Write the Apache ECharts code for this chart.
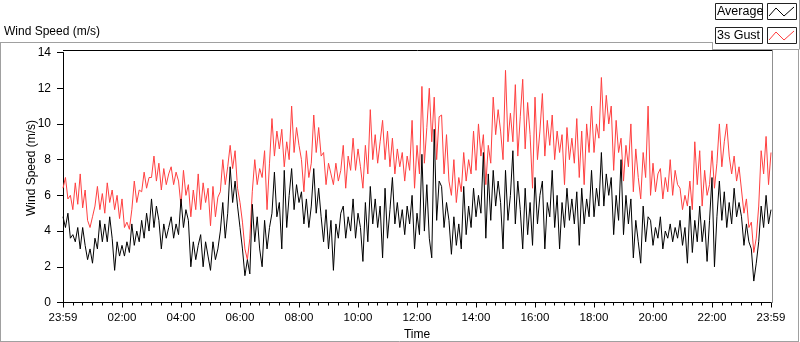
<!DOCTYPE html>
<html>
<head>
<meta charset="utf-8">
<script src="https://cdn.jsdelivr.net/npm/echarts@6/dist/echarts.min.js"></script>
<style>
  html, body { margin: 0; padding: 0; background: #fff; }
  #chart { width: 800px; height: 342px; }
</style>
</head>
<body>
<div id="chart"></div>
<script>
// one reading every 5 minutes, starting at 23:59
const stepMinutes = 5
const timeLabels = ['23:59', '02:00', '04:00', '06:00', '08:00', '10:00', '12:00',
  '14:00', '16:00', '18:00', '20:00', '22:00', '23:59']

// 3s gust (m/s)
const gust = [
  6.4, 7.0, 5.8, 6.0, 5.2, 6.7, 5.5, 7.2, 5.3, 6.3,
  4.6, 4.2, 4.8, 5.4, 6.5, 5.2, 6.1, 5.0, 6.7, 5.6,
  6.3, 5.2, 6.0, 4.7, 5.8, 4.2, 4.5, 4.1, 5.2, 6.8,
  5.6, 6.3, 6.2, 7.3, 6.4, 7.0, 7.0, 8.2, 6.8, 7.8,
  6.3, 7.5, 6.6, 7.2, 7.6, 6.6, 7.3, 6.8, 5.4, 7.4,
  6.0, 6.6, 4.8, 6.3, 5.2, 7.2, 5.2, 6.7, 5.6, 6.4,
  4.3, 6.5, 4.8, 5.9, 6.2, 8.0, 6.6, 7.6, 8.8, 7.5,
  8.5, 6.4, 5.6, 4.5, 3.0, 2.4, 3.6, 6.2, 8.0, 6.6,
  7.5, 7.0, 8.5, 5.2, 7.8, 10.3, 8.2, 9.6, 8.6, 9.7,
  7.6, 9.0, 8.0, 11.0, 8.4, 9.8, 8.8, 8.0, 6.2, 8.5,
  7.0, 7.8, 10.5, 8.4, 9.8, 8.2, 8.4, 6.6, 7.8, 7.2,
  6.6, 7.8, 6.8, 7.4, 8.8, 6.4, 8.2, 7.4, 9.2, 7.4,
  8.6, 7.6, 6.4, 8.8, 7.2, 10.8, 8.0, 9.4, 7.8, 9.0,
  10.2, 8.0, 9.6, 7.6, 9.2, 7.2, 8.6, 7.6, 8.4, 6.8,
  8.2, 7.4, 10.2, 6.4, 8.8, 7.2, 12.1, 7.8, 9.8, 12.0,
  9.0, 11.5, 8.0, 10.4, 10.5, 7.2, 9.4, 6.8, 6.0, 8.0,
  5.6, 7.0, 6.2, 8.4, 6.8, 8.0, 7.2, 9.6, 7.4, 10.0,
  8.2, 9.4, 6.6, 8.8, 7.8, 11.5, 9.4, 10.8, 9.6, 8.0,
  13.0, 9.0, 10.6, 9.0, 12.2, 8.2, 10.4, 12.5, 8.6, 11.2,
  9.4, 6.4, 11.5, 8.0, 9.6, 11.7, 8.2, 10.2, 8.8, 10.5,
  8.0, 9.6, 8.4, 9.4, 6.6, 9.8, 8.0, 9.2, 7.8, 10.3,
  7.0, 9.6, 6.6, 10.0, 8.4, 11.0, 8.4, 10.0, 9.2, 12.6,
  9.6, 11.6, 10.0, 11.0, 7.4, 10.2, 8.4, 9.2, 6.8, 8.8,
  7.6, 10.0, 6.2, 8.6, 7.0, 5.8, 8.4, 7.0, 11.0, 6.0,
  7.8, 6.2, 7.2, 7.5, 5.8, 7.0, 6.2, 8.0, 6.0, 7.4,
  6.6, 6.4, 5.2, 6.0, 5.4, 6.8, 5.2, 9.0, 6.6, 8.5,
  5.4, 7.4, 6.0, 6.6, 8.5, 6.4, 7.8, 10.0, 7.6, 9.0,
  10.0, 8.2, 7.2, 8.2, 6.8, 7.6, 6.3, 5.0, 5.8, 4.2,
  4.5, 2.8, 3.6, 5.4, 8.5, 7.2, 9.3, 6.6, 8.4
]

// 1-minute average (m/s)
const average = [
  4.8, 4.2, 5.0, 3.6, 3.8, 3.4, 4.2, 3.0, 4.2, 3.2,
  2.4, 3.0, 2.2, 3.6, 3.0, 4.6, 3.4, 4.4, 3.4, 4.8,
  3.6, 1.8, 3.4, 2.6, 3.2, 2.6, 3.4, 2.8, 4.4, 3.2,
  4.0, 3.4, 4.6, 3.6, 5.0, 4.0, 5.8, 4.2, 5.4, 4.6,
  3.0, 4.4, 3.6, 4.2, 4.8, 3.6, 4.4, 3.8, 5.8, 4.2,
  5.2, 4.6, 2.0, 3.4, 2.4, 3.2, 3.8, 2.0, 3.4, 2.6,
  1.8, 3.4, 2.4, 3.0, 4.0, 5.6, 3.6, 5.0, 7.6, 5.6,
  6.8, 5.4, 4.2, 3.0, 1.5, 2.4, 1.6, 5.5, 3.4, 4.8,
  3.0, 2.0, 4.6, 3.0, 4.2, 5.0, 7.3, 4.8, 5.6, 3.0,
  7.4, 4.2, 6.0, 7.5, 5.2, 6.6, 5.6, 6.2, 4.4, 5.8,
  4.2, 5.4, 7.5, 5.0, 6.4, 4.8, 3.4, 5.2, 3.0, 4.6,
  1.8, 4.4, 3.6, 5.0, 5.4, 3.6, 4.8, 4.0, 5.8, 3.6,
  5.0, 4.2, 2.3, 5.6, 3.4, 6.5, 4.4, 5.8, 4.2, 5.4,
  2.5, 6.4, 3.6, 5.2, 7.0, 4.4, 5.6, 4.2, 5.2, 3.8,
  5.4, 4.4, 6.0, 3.0, 5.0, 3.8, 8.3, 4.0, 6.6, 3.6,
  2.5, 9.7, 4.6, 6.8, 6.5, 4.2, 5.6, 4.6, 2.7, 4.8,
  3.2, 4.4, 3.0, 6.5, 3.8, 5.4, 4.2, 6.4, 4.8, 6.0,
  5.0, 8.4, 3.6, 7.2, 4.6, 7.4, 5.4, 6.8, 5.6, 3.0,
  7.4, 4.6, 6.0, 8.5, 4.4, 6.8, 5.2, 3.0, 6.4, 3.8,
  5.6, 3.2, 7.0, 4.4, 6.0, 6.8, 3.0, 5.6, 4.8, 7.4,
  4.2, 6.0, 3.0, 5.6, 4.2, 6.4, 4.6, 5.8, 4.4, 6.2,
  3.2, 6.4, 4.4, 5.8, 4.8, 7.4, 4.8, 6.4, 5.4, 8.4,
  5.4, 7.2, 6.0, 7.0, 3.8, 6.0, 4.6, 8.0, 3.8, 6.0,
  4.4, 5.8, 2.5, 4.6, 3.4, 2.2, 5.4, 3.4, 4.8, 4.6,
  3.2, 4.2, 3.6, 4.8, 3.0, 4.0, 3.6, 4.4, 3.4, 4.2,
  3.6, 4.6, 3.2, 4.2, 2.2, 5.4, 2.8, 4.6, 3.4, 5.4,
  3.4, 4.6, 2.3, 4.6, 7.0, 2.0, 4.8, 6.8, 4.6, 6.2,
  4.2, 5.6, 4.4, 6.4, 4.8, 5.6, 4.8, 3.2, 4.4, 3.4,
  3.0, 1.2, 2.2, 3.4, 5.4, 4.2, 6.0, 4.4, 5.2
]

const FONT = '"Liberation Sans", Arial, sans-serif'
const FRAME_GRAY = '#a0a0a0'

function toPoints(values) {
  return values.map((v, i) => [i * stepMinutes, v])
}

function hline(x1, x2, y, color) {
  return { type: 'line', silent: true, z: 50,
    shape: { x1, y1: y, x2, y2: y }, style: { stroke: color, lineWidth: 1 } }
}
function vline(x, y1, y2, color) {
  return { type: 'line', silent: true, z: 50,
    shape: { x1: x, y1, x2: x, y2 }, style: { stroke: color, lineWidth: 1 } }
}

function legendItem(y, label, color) {
  return [
    { type: 'rect', silent: true, z: 50, shape: { x: 715.5, y: y + 0.5, width: 47, height: 16 },
      style: { fill: '#fff', stroke: '#222', lineWidth: 1 } },
    { type: 'text', silent: true, z: 51, x: 717, y: y + 9,
      style: { text: label, fill: '#000', font: '12.5px ' + FONT, verticalAlign: 'middle' } },
    { type: 'rect', silent: true, z: 50, shape: { x: 767.5, y: y + 0.5, width: 29, height: 16 },
      style: { fill: '#fff', stroke: '#222', lineWidth: 1 } },
    { type: 'polyline', silent: true, z: 51,
      shape: { points: [[769, y + 13], [776, y + 5], [784, y + 13], [794, y + 4]] },
      style: { stroke: color, lineWidth: 1, fill: null } }
  ]
}

const chart = echarts.init(document.getElementById('chart'))

chart.setOption({
  backgroundColor: '#fff',
  animation: false,
  textStyle: { fontFamily: FONT },
  grid: { left: 63, right: 29, top: 52.5, bottom: 39.5, outerBoundsMode: 'none' },
  xAxis: {
    type: 'value',
    min: 0,
    max: 1440,
    interval: 120,
    name: 'Time',
    nameLocation: 'middle',
    nameGap: 26,
    nameTextStyle: { color: '#000', fontSize: 12, fontFamily: FONT },
    axisLine: { lineStyle: { color: '#000', width: 1 } },
    axisTick: { length: 5, lineStyle: { color: '#000' } },
    minorTick: { show: true, splitNumber: 6, length: 3, lineStyle: { color: '#000' } },
    axisLabel: {
      color: '#000', fontSize: 11.5, fontFamily: FONT, margin: 9,
      formatter: v => timeLabels[Math.round(v / 120)]
    },
    splitLine: { show: false }
  },
  yAxis: {
    type: 'value',
    min: 0,
    max: 14,
    interval: 2,
    axisLine: { show: true, lineStyle: { color: '#000', width: 1 } },
    axisTick: { show: true, length: 6, lineStyle: { color: '#000' } },
    axisLabel: { color: '#000', fontSize: 12, fontFamily: FONT, margin: 12 },
    splitLine: { show: false }
  },
  graphic: [
    // chart title
    { type: 'text', silent: true, x: 4, y: 32,
      style: { text: 'Wind Speed (m/s)', fill: '#000', font: '12px ' + FONT, verticalAlign: 'middle' } },
    // y axis name
    { type: 'text', silent: true, x: 32, y: 168, rotation: Math.PI / 2,
      style: { text: 'Wind Speed (m/s)', fill: '#000', font: '12px ' + FONT,
        align: 'center', verticalAlign: 'middle' } },
    // outer frame
    hline(0, 712, 42.5, FRAME_GRAY),
    vline(0.5, 42, 342, FRAME_GRAY),
    hline(0, 799, 341.5, FRAME_GRAY),
    vline(798.5, 49, 342, FRAME_GRAY),
    // legend panel edges
    vline(712.5, 42, 49.5, FRAME_GRAY),
    hline(712, 799, 49.5, FRAME_GRAY),
    vline(799.5, 0, 49.5, FRAME_GRAY),
    // plot frame top and right
    hline(63, 772, 50.5, '#000'),
    vline(772.5, 50, 303, '#909090'),
    ...legendItem(3, 'Average', '#000'),
    ...legendItem(27, '3s Gust', '#ff3c3c')
  ],
  series: [
    {
      name: '3s Gust',
      type: 'line',
      data: toPoints(gust),
      symbol: 'none',
      lineStyle: { color: '#ff4040', width: 1 },
      z: 2
    },
    {
      name: 'Average',
      type: 'line',
      data: toPoints(average),
      symbol: 'none',
      lineStyle: { color: '#000', width: 1 },
      z: 3
    }
  ]
})
</script>
</body>
</html>
